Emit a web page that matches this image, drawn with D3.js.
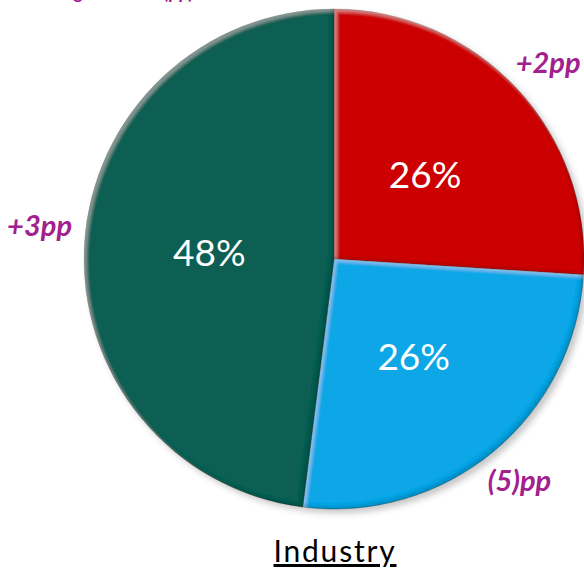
<!DOCTYPE html>
<html>
<head>
<meta charset="utf-8">
<script src="https://cdn.jsdelivr.net/npm/d3@7"></script>
<style>
  html, body { margin: 0; padding: 0; background: #ffffff; }
  svg { display: block; }
</style>
</head>
<body>
<script>
// Share of each segment (%), drawn clockwise from 12 o'clock
const segments = ["Segment A", "Segment B", "Segment C"];
const shares = [26, 26, 48];
const changes = ["+2pp", "(5)pp", "+3pp"];
const colors = ["#cc0606", "#0ea6e6", "#075f53"];
const chartTitle = "Industry";
const headerText = "Change in share (pp)";

const width = 584, height = 572;
const cx = 334, cy = 259, radius = 250;

const svg = d3.select("body").append("svg")
  .attr("width", width)
  .attr("height", height);

const defs = svg.append("defs");

// soft shadow beneath the whole pie
const shadow = defs.append("filter").attr("id", "pieShadow")
  .attr("x", "-10%").attr("y", "-10%").attr("width", "130%").attr("height", "130%");
shadow.append("feDropShadow")
  .attr("dx", 4).attr("dy", 4).attr("stdDeviation", 3)
  .attr("flood-color", "#000").attr("flood-opacity", 0.22);

// bevelled rim: light on upper-left edges, dark on lower-right edges
const bevel = defs.append("filter").attr("id", "bevel")
  .attr("x", "-5%").attr("y", "-5%").attr("width", "110%").attr("height", "110%");
bevel.append("feGaussianBlur").attr("in", "SourceAlpha").attr("stdDeviation", 1.5).attr("result", "b");
bevel.append("feOffset").attr("in", "b").attr("dx", 3).attr("dy", 3).attr("result", "bDown");
bevel.append("feOffset").attr("in", "b").attr("dx", -3).attr("dy", -3).attr("result", "bUp");
bevel.append("feComposite").attr("in", "SourceAlpha").attr("in2", "bDown").attr("operator", "out").attr("result", "hiMask");
bevel.append("feComposite").attr("in", "SourceAlpha").attr("in2", "bUp").attr("operator", "out").attr("result", "loMask");
bevel.append("feFlood").attr("flood-color", "#ffffff").attr("flood-opacity", 0.22).attr("result", "hiCol");
bevel.append("feComposite").attr("in", "hiCol").attr("in2", "hiMask").attr("operator", "in").attr("result", "hi");
bevel.append("feFlood").attr("flood-color", "#000000").attr("flood-opacity", 0.28).attr("result", "loCol");
bevel.append("feComposite").attr("in", "loCol").attr("in2", "loMask").attr("operator", "in").attr("result", "lo");
const merge = bevel.append("feMerge");
merge.append("feMergeNode").attr("in", "SourceGraphic");
merge.append("feMergeNode").attr("in", "hi");
merge.append("feMergeNode").attr("in", "lo");

const data = segments.map((name, i) => ({ name, share: shares[i], change: changes[i], color: colors[i] }));

const pie = d3.pie().sort(null).value(d => d.share);
const arcs = pie(data);

const arc = d3.arc().innerRadius(0).outerRadius(radius);
const valueArc = d3.arc().innerRadius(125).outerRadius(125);
const changeArc = d3.arc().innerRadius(291).outerRadius(291);

const g = svg.append("g").attr("transform", `translate(${cx},${cy})`);

const slices = g.append("g").attr("filter", "url(#pieShadow)");
slices.selectAll("path")
  .data(arcs)
  .join("path")
  .attr("d", arc)
  .attr("fill", d => d.data.color)
  .attr("stroke", "rgba(0,0,0,0.3)")
  .attr("stroke-width", 0.8)
  .attr("filter", "url(#bevel)");

// percentage inside each slice
g.append("g").selectAll("text")
  .data(arcs)
  .join("text")
  .attr("transform", d => `translate(${valueArc.centroid(d)})`)
  .attr("text-anchor", "middle")
  .attr("dominant-baseline", "central")
  .attr("font-family", "Lato, sans-serif")
  .attr("font-size", 37)
  .attr("fill", "#ffffff")
  .text(d => d.data.share + "%");

// change vs. previous period, outside each slice (small hand nudges to clear the rim)
const nudge = [[2, 2], [0, -4], [-4, -16]];
g.append("g").selectAll("text")
  .data(arcs)
  .join("text")
  .attr("transform", (d, i) => {
    const [x, y] = changeArc.centroid(d);
    return `translate(${x + nudge[i][0]},${y + nudge[i][1]})`;
  })
  .attr("text-anchor", "middle")
  .attr("dominant-baseline", "central")
  .attr("font-family", "Lato, sans-serif")
  .attr("font-style", "italic")
  .attr("font-weight", "bold")
  .attr("font-size", 29)
  .attr("fill", "#a3208f")
  .text(d => d.data.change);

// header, partly above the top edge
svg.append("text")
  .attr("x", 194)
  .attr("y", -1)
  .attr("text-anchor", "end")
  .attr("font-family", "Lato, sans-serif")
  .attr("font-style", "italic")
  .attr("font-weight", "bold")
  .attr("font-size", 19)
  .attr("fill", "#a3208f")
  .text(headerText);

// chart title
svg.append("text")
  .attr("x", cx + 1)
  .attr("y", 562)
  .attr("text-anchor", "middle")
  .attr("font-family", "Lato, sans-serif")
  .attr("font-size", 30)
  .attr("letter-spacing", 1.8)
  .attr("fill", "#000000")
  .attr("text-decoration", "underline")
  .text(chartTitle);
</script>
</body>
</html>
